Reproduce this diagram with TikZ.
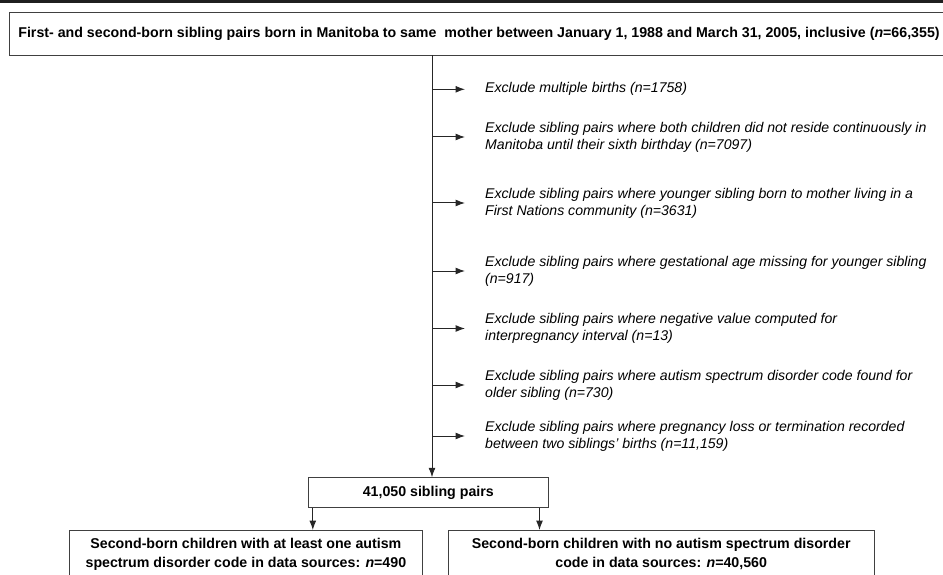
\documentclass[tikz,border=0pt]{standalone}
\usepackage{fontspec}
\setmainfont{Liberation Sans}
\usetikzlibrary{positioning,arrows.meta}

\begin{document}
\begin{tikzpicture}[x=1pt,y=-1pt]
\tikzstyle{box}=[draw=black!75, line width=0.9pt, inner sep=0pt, align=center,
                 font=\fontsize{14.2}{19}\selectfont\bfseries]
\tikzstyle{excl}=[anchor=west, inner sep=0pt, align=left,
                  font=\fontsize{14.1}{17}\selectfont\itshape]
\tikzstyle{arr}=[draw=black!85, line width=1pt, -{Latex[length=9.5pt,width=7pt]}]
\useasboundingbox (0,0) rectangle (943,575);
\fill[black!88] (0,0) rectangle (943,3.5);
% cohort box, runs past the right edge
\node[box, minimum width=939.5, minimum height=42.7] (cohort) at (479,33.7)
  {First- and second-born sibling pairs born in Manitoba to same~ mother between January 1, 1988 and March 31, 2005, inclusive (\textit{n}=66,355)};
\coordinate (spine) at (432,55);
% exclusions
\node[excl] (ex1) at (485,89.3) {Exclude multiple births (n=1758)};
\node[excl] (ex2) at (485,137) {Exclude sibling pairs where both children did not reside continuously in\\
  Manitoba until their sixth birthday (n=7097)};
\node[excl] (ex3) at (485,203) {Exclude sibling pairs where younger sibling born to mother living in a\\
  First Nations community (n=3631)};
\node[excl] (ex4) at (485,271) {Exclude sibling pairs where gestational age missing for younger sibling\\
  (n=917)};
\node[excl] (ex5) at (485,328.5) {Exclude sibling pairs where negative value computed for\\
  interpregnancy interval (n=13)};
\node[excl] (ex6) at (485,385) {Exclude sibling pairs where autism spectrum disorder code found for\\
  older sibling (n=730)};
\node[excl] (ex7) at (485,436) {Exclude sibling pairs where pregnancy loss or termination recorded\\
  between two siblings’ births (n=11,159)};
% remaining pairs and the two groups
\node[box, minimum width=239.5, minimum height=29.5] (pairs) at (428.3,492.5) {41,050 sibling pairs};
\node[box, anchor=north, minimum width=353.7, inner ysep=7.5] (asd) at (245.9,530)
  {Second-born children with at least one autism\\spectrum disorder code in data sources: \textit{n}=490};
\node[box, anchor=north, minimum width=425.7, inner ysep=7.5] (noasd) at (661.2,530)
  {Second-born children with no autism spectrum disorder\\code in data sources: \textit{n}=40,560};
\draw[arr] (cohort.south -| spine) -- (pairs.north -| spine);
\foreach \e in {ex1,ex2,ex3,ex4,ex5,ex6,ex7}
  \draw[arr] (\e.west -| spine) -- ([xshift=-20pt]\e.west);
\draw[arr] ([xshift=4.7pt]pairs.south west) coordinate (l) -- (l |- asd.north);
\draw[arr] ([xshift=-9pt]pairs.south east) coordinate (r) -- (r |- noasd.north);
\end{tikzpicture}
\end{document}
